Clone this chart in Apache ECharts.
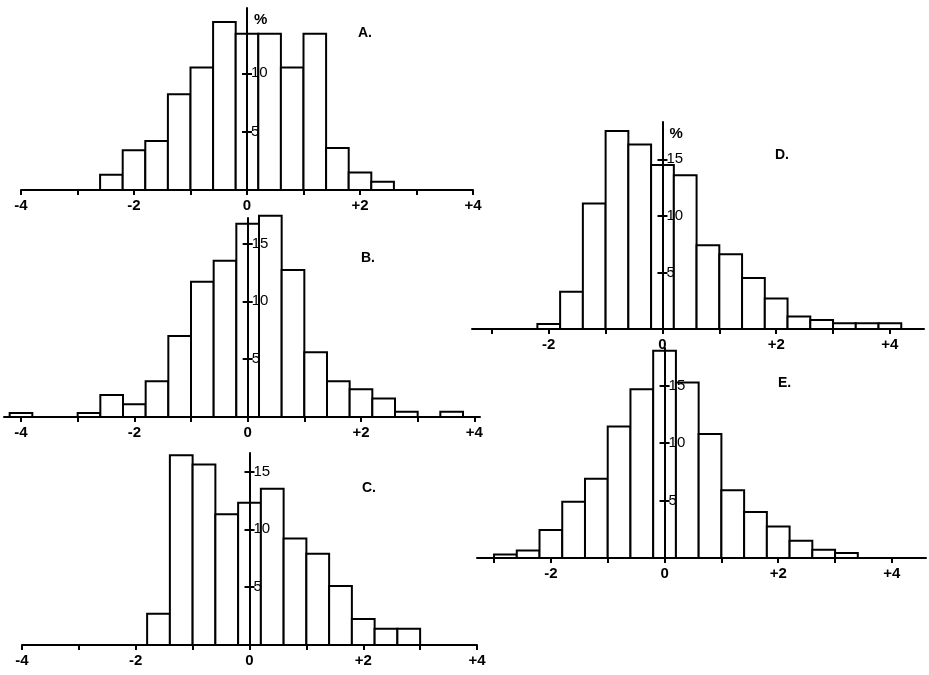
<!DOCTYPE html>
<html>
<head>
<meta charset="utf-8">
<script src="https://cdn.jsdelivr.net/npm/echarts@6/dist/echarts.min.js"></script>
<style>
  html, body { margin: 0; padding: 0; background: #fff; }
  #main { width: 929px; height: 675px; }
</style>
</head>
<body>
<div id="main"></div>
<script>
// bin width of every histogram
const binWidth = 0.4

// A
const centersA = [-2.4, -2.0, -1.6, -1.2, -0.8, -0.4, 0, 0.4, 0.8, 1.2, 1.6, 2.0, 2.4]
const valuesA = [1.3, 3.4, 4.2, 8.2, 10.5, 14.4, 13.4, 13.4, 10.5, 13.4, 3.6, 1.5, 0.7]
// B
const centersB = [-4.0, -2.8, -2.4, -2.0, -1.6, -1.2, -0.8, -0.4, 0, 0.4, 0.8, 1.2, 1.6, 2.0, 2.4, 2.8, 3.6]
const valuesB = [0.35, 0.35, 1.9, 1.1, 3.1, 7.0, 11.7, 13.5, 16.7, 17.4, 12.7, 5.6, 3.1, 2.4, 1.6, 0.45, 0.45]
// C
const centersC = [-1.6, -1.2, -0.8, -0.4, 0, 0.4, 0.8, 1.2, 1.6, 2.0, 2.4, 2.8]
const valuesC = [2.7, 16.4, 15.6, 11.3, 12.3, 13.5, 9.2, 7.9, 5.1, 2.25, 1.4, 1.4]
// D
const centersD = [-2.0, -1.6, -1.2, -0.8, -0.4, 0, 0.4, 0.8, 1.2, 1.6, 2.0, 2.4, 2.8, 3.2, 3.6, 4.0]
const valuesD = [0.45, 3.3, 11.1, 17.5, 16.3, 14.5, 13.6, 7.4, 6.6, 4.5, 2.7, 1.1, 0.8, 0.5, 0.5, 0.5]
// E
const centersE = [-2.8, -2.4, -2.0, -1.6, -1.2, -0.8, -0.4, 0, 0.4, 0.8, 1.2, 1.6, 2.0, 2.4, 2.8, 3.2]
const valuesE = [0.3, 0.65, 2.45, 4.9, 6.9, 11.45, 14.7, 18.05, 15.3, 10.8, 5.9, 4.0, 2.75, 1.5, 0.72, 0.43]

// axis ticks / labels
const xTicks = [-4, -3, -2, -1, 0, 1, 2, 3, 4]
const xLabels = [-4, -2, 0, 2, 4]
const yLabelsA = [5, 10]
const yLabelsOther = [5, 10, 15]
const panelNames = ['A.', 'B.', 'C.', 'D.', 'E.']

const font = 'Liberation Sans'
const ink = '#000'

// grid boxes and axis ranges of the five panels
const panels = [
  { left: 21, top: 8, width: 452, height: 182, xMin: -4, xMax: 4, yMax: 15.6, centers: centersA, values: valuesA, yLabels: yLabelsA, unit: '%', name: [358, 26] },
  { left: 4, top: 218, width: 476, height: 199, xMin: -4.3, xMax: 4.1, yMax: 17.2, centers: centersB, values: valuesB, yLabels: yLabelsOther, unit: '', name: [361, 251] },
  { left: 22, top: 453, width: 455, height: 192, xMin: -4, xMax: 4, yMax: 16.6, centers: centersC, values: valuesC, yLabels: yLabelsOther, unit: '', name: [362, 481] },
  { left: 472, top: 122, width: 452, height: 207, xMin: -3.35, xMax: 4.6, yMax: 18.3, centers: centersD, values: valuesD, yLabels: yLabelsOther, unit: '%', name: [775, 148] },
  { left: 477, top: 348, width: 449, height: 210, xMin: -3.3, xMax: 4.6, yMax: 18.3, centers: centersE, values: valuesE, yLabels: yLabelsOther, unit: '', name: [778, 376] }
]

function fmtX (v) {
  return v > 0 ? '+' + v : String(v)
}

const grid = []
const xAxis = []
const yAxis = []
const series = []
const graphic = []

panels.forEach(function (p, i) {
  // main grid: histogram + x axis
  grid.push({ left: p.left, top: p.top, width: p.width, height: p.height })
  xAxis.push({
    type: 'value',
    gridIndex: i * 2,
    min: p.xMin,
    max: p.xMax,
    splitLine: { show: false },
    axisLine: { onZero: false, lineStyle: { color: ink, width: 2 } },
    axisTick: { customValues: xTicks, length: 5, lineStyle: { color: ink, width: 2 } },
    axisLabel: {
      customValues: xLabels,
      formatter: fmtX,
      color: ink,
      fontFamily: font,
      fontWeight: 'bold',
      fontSize: 15,
      margin: 8
    }
  })
  yAxis.push({
    type: 'value',
    gridIndex: i * 2,
    min: 0,
    max: p.yMax,
    show: false
  })
  // thin grid whose left edge sits on x = 0, carrying the % axis
  let zeroX = p.left + (0 - p.xMin) / (p.xMax - p.xMin) * p.width
  grid.push({ left: zeroX, top: p.top, width: 40, height: p.height, z: 5 })
  xAxis.push({ type: 'value', gridIndex: i * 2 + 1, min: 0, max: 1, show: false })
  // labels and ticks going right
  yAxis.push({
    type: 'value',
    gridIndex: i * 2 + 1,
    position: 'left',
    min: 0,
    max: p.yMax,
    splitLine: { show: false },
    name: p.unit,
    nameLocation: 'end',
    nameGap: -19,
    nameTextStyle: { color: ink, fontFamily: font, fontWeight: 'bold', fontSize: 15, align: 'left', padding: [0, 0, 0, 7] },
    axisLine: { onZero: false, lineStyle: { color: ink, width: 2 } },
    axisTick: { inside: true, customValues: p.yLabels, length: 5, lineStyle: { color: ink, width: 2 } },
    axisLabel: {
      inside: true,
      customValues: p.yLabels,
      color: ink,
      fontFamily: font,
      fontSize: 15,
      margin: 4
    },
    z: 5
  })
  // ticks going left on the same line
  yAxis.push({
    type: 'value',
    gridIndex: i * 2 + 1,
    position: 'left',
    offset: 0,
    min: 0,
    max: p.yMax,
    splitLine: { show: false },
    axisLine: { show: false, onZero: false },
    axisTick: { customValues: p.yLabels, length: 5, lineStyle: { color: ink, width: 2 } },
    axisLabel: { show: false },
    z: 5
  })
  series.push({
    type: 'custom',
    xAxisIndex: i * 2,
    yAxisIndex: i * 3,
    data: p.centers.map(function (c, k) {
      return [c - binWidth / 2, c + binWidth / 2, p.values[k]]
    }),
    encode: { x: [0, 1], y: 2 },
    renderItem: function (params, api) {
      let a = api.coord([api.value(0), api.value(2)])
      let b = api.coord([api.value(1), 0])
      return {
        type: 'rect',
        shape: { x: a[0], y: a[1], width: b[0] - a[0], height: b[1] - a[1] },
        style: { fill: '#fff', stroke: ink, lineWidth: 2 }
      }
    },
    z: 2
  })
  graphic.push({
    type: 'text',
    left: p.name[0],
    top: p.name[1],
    style: { text: panelNames[i], fill: ink, font: 'bold 14px "Liberation Sans"' }
  })
})

const myChart = echarts.init(document.getElementById('main'))
myChart.setOption({
  backgroundColor: '#fff',
  animation: false,
  grid: grid,
  xAxis: xAxis,
  yAxis: yAxis,
  series: series,
  graphic: graphic
})
</script>
</body>
</html>
